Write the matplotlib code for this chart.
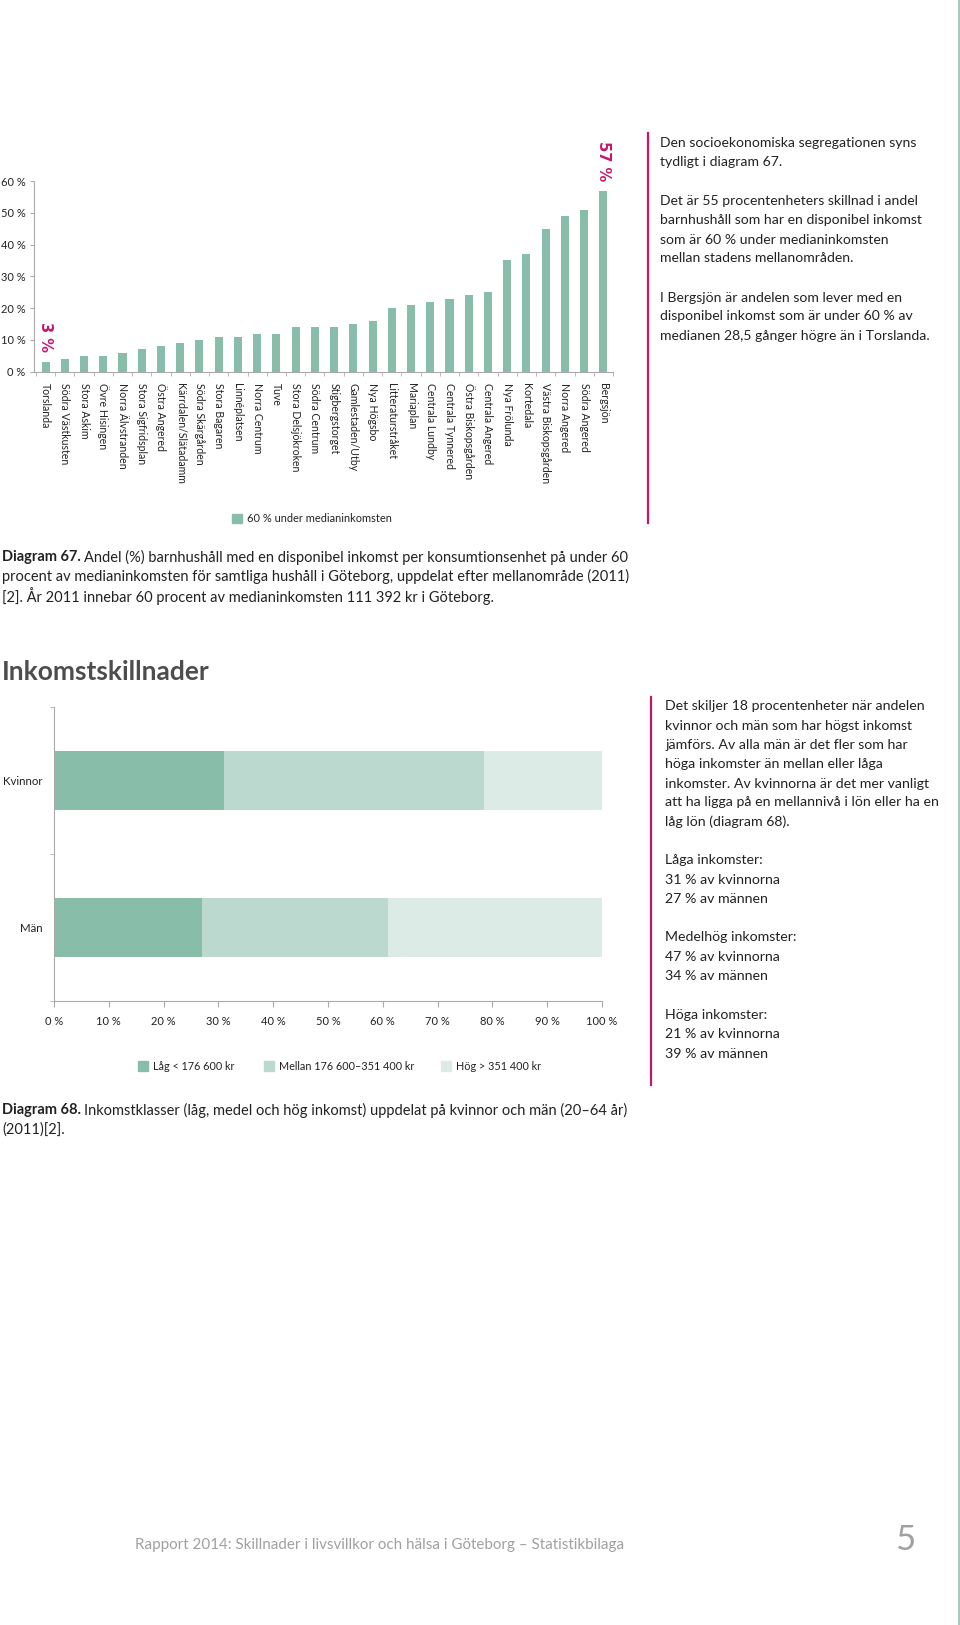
import numpy as np
import matplotlib
matplotlib.use('Agg')
import matplotlib.pyplot as plt

plt.rcParams['font.family'] = ['Lato', 'DejaVu Sans']

# Diagram 67 data
areas = ['Torslanda', 'Södra Västkusten', 'Stora Askim', 'Övre Hisingen',
         'Norra Älvstranden', 'Stora Sigfridsplan', 'Östra Angered',
         'Kärrdalen/Slätadamm', 'Södra Skärgården', 'Stora Bagaren',
         'Linnéplatsen', 'Norra Centrum', 'Tuve', 'Stora Delsjökroken',
         'Södra Centrum', 'Stigbergstorget', 'Gamlestaden/Utby', 'Nya Högsbo',
         'Litteraturstråket', 'Mariaplan', 'Centrala Lundby', 'Centrala Tynnered',
         'Östra Biskopsgården', 'Centrala Angered', 'Nya Frölunda', 'Kortedala',
         'Västra Biskopsgården', 'Norra Angered', 'Södra Angered', 'Bergsjön']
share_below = [3, 4, 5, 5, 6, 7, 8, 9, 10, 11, 11, 12, 12, 14, 14,
               14, 15, 16, 20, 21, 22, 23, 24, 25, 35, 37, 45, 49, 51, 57]

# Diagram 68 data
groups = ['Män', 'Kvinnor']
income_classes = ['Låg < 176 600 kr', 'Mellan 176 600–351 400 kr', 'Hög > 351 400 kr']
low = [27, 31]
mid = [34, 47.5]
high = [39, 21.5]

W, H = 960, 1625
TEAL = '#88bdaa'
MAGENTA = '#c4176c'
TXT = '#222222'
GREY = '#a0a0a0'

fig = plt.figure(figsize=(W / 100, H / 100), dpi=100)


def px(x):
    return x / W


def py(y):
    return 1 - y / H


def axes_px(left, top, right, bottom):
    return fig.add_axes([px(left), py(bottom), px(right - left), (bottom - top) / H])


# ---- Diagram 67 ----
ax1 = axes_px(34, 181, 613, 371.7)
x = np.arange(len(areas))
ax1.bar(x, share_below, width=0.42, color=TEAL)
ax1.set_xlim(-0.6, 29.45)
ax1.set_ylim(0, 60)
ax1.set_yticks(range(0, 61, 10))
ax1.set_yticklabels([f'{v} %' for v in range(0, 61, 10)], fontsize=8, color=TXT)
ax1.set_xticks(x)
ax1.set_xticklabels(areas, rotation=-90, fontsize=7.6, color=TXT, va='top')
ax1.set_xticks(np.arange(-0.5, 30, 1), minor=True)
ax1.tick_params(axis='x', which='major', length=0, pad=8)
ax1.tick_params(axis='x', which='minor', length=3, color='#c9a0b0')
ax1.tick_params(axis='y', length=3, color='#aaaaaa', pad=3)
for s in ['top', 'right']:
    ax1.spines[s].set_visible(False)
for s in ['left', 'bottom']:
    ax1.spines[s].set_color('#aaaaaa')
# highlighted min / max values
for i in [0, len(areas) - 1]:
    ax1.annotate(f'{share_below[i]} %', (x[i], share_below[i]), xytext=(0, 7),
                 textcoords='offset points', rotation=-90, ha='center', va='bottom',
                 fontsize=10.5, fontweight='bold', family=['DejaVu Sans'],
                 color=MAGENTA, annotation_clip=False)

# legend 67
fig.patches.append(plt.Rectangle((px(232), py(523)), px(10), 9 / H, color=TEAL,
                                 transform=fig.transFigure))
fig.text(px(247), py(519), '60 % under medianinkomsten', fontsize=7.9, color=TXT, va='center')

# caption 67
cap67 = ['Andel (%) barnhushåll med en disponibel inkomst per konsumtionsenhet på under 60',
         'procent av medianinkomsten för samtliga hushåll i Göteborg, uppdelat efter mellanområde (2011)',
         '[2]. År 2011 innebar 60 procent av medianinkomsten 111 392 kr i Göteborg.']
CAP = 10.5
t = fig.text(px(2), py(557), 'Diagram 67. ', fontsize=CAP, fontweight='bold', color=TXT, va='center')
fig.canvas.draw()
bb = t.get_window_extent()
fig.text(bb.x1 / W, py(557), cap67[0], fontsize=CAP, color=TXT, va='center')
fig.text(px(2), py(576.5), cap67[1], fontsize=CAP, color=TXT, va='center')
fig.text(px(2), py(596), cap67[2], fontsize=CAP, color=TXT, va='center')

# right text 1
fig.add_artist(plt.Line2D([px(648), px(648)], [py(133), py(523)], color=MAGENTA, lw=1.6))
side1 = [(143, 'Den socioekonomiska segregationen syns'),
         (162.5, 'tydligt i diagram 67.'),
         (201, 'Det är 55 procentenheters skillnad i andel'),
         (220, 'barnhushåll som har en disponibel inkomst'),
         (239.5, 'som är 60 % under medianinkomsten'),
         (258.5, 'mellan stadens mellanområden.'),
         (297.5, 'I Bergsjön är andelen som lever med en'),
         (316.5, 'disponibel inkomst som är under 60 % av'),
         (336, 'medianen 28,5 gånger högre än i Torslanda.')]
for yy, s in side1:
    fig.text(px(660), py(yy), s, fontsize=10.1, color=TXT, va='center')

# ---- Inkomstskillnader ----
fig.text(px(2), py(672), 'Inkomstskillnader', fontsize=19, fontweight='bold',
         color='#4d4d4d', va='center')

ax2 = axes_px(54, 707, 602, 1001)
yy2 = np.arange(len(groups))
colors2 = [TEAL, '#bcd9cf', '#ddebe6']
left = np.zeros(len(groups))
for vals, c, lab in zip([low, mid, high], colors2, income_classes):
    ax2.barh(yy2, vals, left=left, height=0.4, color=c, label=lab)
    left = left + np.array(vals)
ax2.set_xlim(0, 100)
ax2.set_ylim(-0.5, 1.5)
ax2.set_xticks(range(0, 101, 10))
ax2.set_xticklabels([f'{v} %' for v in range(0, 101, 10)], fontsize=8, color=TXT)
ax2.set_yticks(yy2)
ax2.set_yticklabels(groups, fontsize=8.3, color=TXT)
ax2.set_yticks([-0.5, 0.5, 1.5], minor=True)
ax2.tick_params(axis='y', which='major', length=0, pad=8)
ax2.tick_params(axis='y', which='minor', length=3, color='#aaaaaa')
ax2.tick_params(axis='x', length=4, color='#aaaaaa', pad=7)
for s in ['top', 'right']:
    ax2.spines[s].set_visible(False)
for s in ['left', 'bottom']:
    ax2.spines[s].set_color('#aaaaaa')

# legend 68
for lx, c, lab in zip([138, 264, 441], colors2, income_classes):
    fig.patches.append(plt.Rectangle((px(lx), py(1071)), px(10), 10 / H, color=c,
                                     transform=fig.transFigure))
    fig.text(px(lx + 15), py(1066), lab, fontsize=7.8, color=TXT, va='center')

# caption 68
t = fig.text(px(2), py(1110), 'Diagram 68. ', fontsize=CAP, fontweight='bold', color=TXT, va='center')
fig.canvas.draw()
bb = t.get_window_extent()
fig.text(bb.x1 / W, py(1110), 'Inkomstklasser (låg, medel och hög inkomst) uppdelat på kvinnor och män (20–64 år)',
         fontsize=CAP, color=TXT, va='center')
fig.text(px(2), py(1130), '(2011)[2].', fontsize=CAP, color=TXT, va='center')

# right text 2
fig.add_artist(plt.Line2D([px(651), px(651)], [py(697), py(1085)], color=MAGENTA, lw=1.6))
side2 = [(706, 'Det skiljer 18 procentenheter när andelen'),
         (725.5, 'kvinnor och män som har högst inkomst'),
         (745, 'jämförs. Av alla män är det fler som har'),
         (764, 'höga inkomster än mellan eller låga'),
         (783.5, 'inkomster. Av kvinnorna är det mer vanligt'),
         (802.5, 'att ha ligga på en mellannivå i lön eller ha en'),
         (822, 'låg lön (diagram 68).'),
         (860.5, 'Låga inkomster:'),
         (880, '31 % av kvinnorna'),
         (899, '27 % av männen'),
         (937.5, 'Medelhög inkomster:'),
         (957, '47 % av kvinnorna'),
         (976, '34 % av männen'),
         (1015, 'Höga inkomster:'),
         (1034, '21 % av kvinnorna'),
         (1053.5, '39 % av männen')]
for yy, s in side2:
    fig.text(px(665), py(yy), s, fontsize=10.2, color=TXT, va='center')

# footer
fig.text(px(135), py(1545), 'Rapport 2014: Skillnader i livsvillkor och hälsa i Göteborg – Statistikbilaga',
         fontsize=10.9, color=GREY, va='center')
fig.text(px(915), py(1540), '5', fontsize=25, color=GREY, va='center', ha='right')
fig.add_artist(plt.Line2D([px(959), px(959)], [0, 1], color='#a9c9c0', lw=1.5))

fig.savefig('out.png', dpi=100)
